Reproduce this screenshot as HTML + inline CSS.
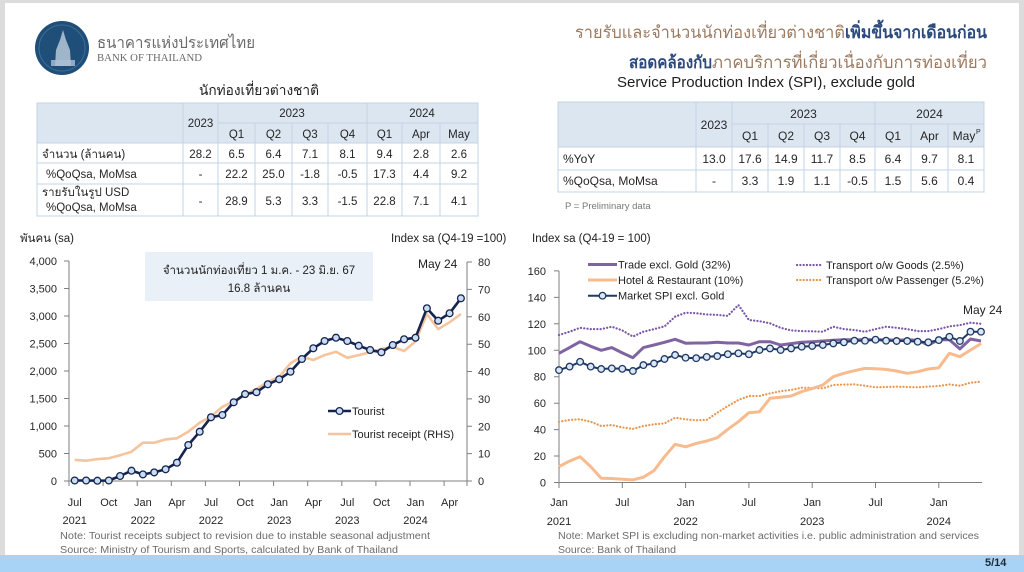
<!DOCTYPE html>
<html><head><meta charset="utf-8">
<style>
html,body{margin:0;padding:0;width:1024px;height:572px;overflow:hidden;background:#fff}
svg{display:block}
text{font-family:"Liberation Sans","DejaVu Sans","Noto Sans CJK SC",sans-serif;fill:#262626}
.t{font-size:11.5px}
.ax{font-size:11px;fill:#333}
.nt{font-size:10px;fill:#6b6b6b}
.lg{font-size:11px;fill:#222}
</style></head><body>
<svg width="1024" height="572" viewBox="0 0 1024 572" xmlns="http://www.w3.org/2000/svg">
<defs>
<marker id="mk" markerUnits="userSpaceOnUse" markerWidth="10" markerHeight="10" refX="5" refY="5" viewBox="0 0 10 10">
<circle cx="5" cy="5" r="3.3" fill="#dbe7f5" stroke="#1f3864" stroke-width="1.3"/>
</marker>
<marker id="mk2" markerUnits="userSpaceOnUse" markerWidth="10" markerHeight="10" refX="5" refY="5" viewBox="0 0 10 10">
<circle cx="5" cy="5" r="3.4" fill="#c9dcf2" stroke="#14244f" stroke-width="1.3"/>
</marker>
</defs>
<!-- frame -->
<rect x="0" y="0" width="1024" height="572" fill="#dcdcdc"/>
<rect x="5" y="3" width="1014" height="552" fill="#ffffff"/>
<rect x="0" y="555" width="1024" height="17" fill="#a9d3f6"/>
<text x="985" y="566" style="font-size:11px;font-weight:bold;fill:#1e2a3a">5/14</text>

<!-- logo -->
<circle cx="62" cy="48" r="27" fill="#1f4e79"/>
<circle cx="62" cy="48" r="23" fill="none" stroke="#3d6c96" stroke-width="1"/>
<path d="M55 66 L56 50 L60 40 L63 30 L66 40 L70 50 L71 66 Z" fill="#c9d8e6" opacity="0.75"/>
<rect x="51" y="60" width="24" height="6" fill="#a9c0d6" opacity="0.8"/>
<text x="97" y="48" textLength="158" lengthAdjust="spacingAndGlyphs" style="font-size:16px;fill:#6a6a6a">ธนาคารแห่งประเทศไทย</text>
<text x="97" y="61" textLength="105" lengthAdjust="spacingAndGlyphs" style="font-family:'Liberation Serif',serif;font-size:10px;fill:#6a6a6a">BANK OF THAILAND</text>

<!-- titles -->
<text x="575" y="38" textLength="270" lengthAdjust="spacingAndGlyphs" style="font-size:17px;fill:#9c7a60">รายรับและจำนวนนักท่องเที่ยวต่างชาติ</text>
<text x="845" y="38" textLength="142" lengthAdjust="spacingAndGlyphs" style="font-size:17px;fill:#2c4a7c;font-weight:bold">เพิ่มขึ้นจากเดือนก่อน</text>
<text x="629" y="68" textLength="83" lengthAdjust="spacingAndGlyphs" style="font-size:17px;fill:#2c4a7c;font-weight:bold">สอดคล้องกับ</text>
<text x="712" y="68" textLength="275" lengthAdjust="spacingAndGlyphs" style="font-size:17px;fill:#9c7a60">ภาคบริการที่เกี่ยวเนื่องกับการท่องเที่ยว</text>

<text x="199" y="95" textLength="120" lengthAdjust="spacingAndGlyphs" style="font-size:14px;fill:#1e1e1e">นักท่องเที่ยวต่างชาติ</text>
<text x="617" y="87" textLength="298" lengthAdjust="spacingAndGlyphs" style="font-size:15px;fill:#1e1e1e">Service Production Index (SPI), exclude gold</text>

<!-- LEFT TABLE -->
<rect x="37" y="103" width="441" height="40" fill="#dce6f1"/>
<g stroke="#c3d3e6" stroke-width="1" fill="none">
<rect x="37" y="103" width="441" height="113"/>
<line x1="37" y1="143" x2="478" y2="143"/>
<line x1="37" y1="163" x2="478" y2="163"/>
<line x1="37" y1="184" x2="478" y2="184"/>
<line x1="218" y1="123" x2="478" y2="123"/>
<line x1="183" y1="103" x2="183" y2="216"/>
<line x1="218" y1="103" x2="218" y2="216"/>
<line x1="367" y1="103" x2="367" y2="216"/>
<line x1="255" y1="123" x2="255" y2="216"/>
<line x1="292" y1="123" x2="292" y2="216"/>
<line x1="328" y1="123" x2="328" y2="216"/>
<line x1="402" y1="123" x2="402" y2="216"/>
<line x1="440" y1="123" x2="440" y2="216"/>
</g>
<g class="t" text-anchor="middle">
<text x="200.5" y="127">2023</text>
<text x="292" y="117">2023</text>
<text x="422" y="117">2024</text>
<text x="236.5" y="138">Q1</text><text x="273.5" y="138">Q2</text><text x="310" y="138">Q3</text><text x="347.5" y="138">Q4</text>
<text x="384.5" y="138">Q1</text><text x="421" y="138">Apr</text><text x="459" y="138">May</text>
<text x="200.5" y="158">28.2</text><text x="236.5" y="158">6.5</text><text x="273.5" y="158">6.4</text><text x="310" y="158">7.1</text><text x="347.5" y="158">8.1</text><text x="384.5" y="158">9.4</text><text x="421" y="158">2.8</text><text x="459" y="158">2.6</text>
<text x="200.5" y="178">-</text><text x="236.5" y="178">22.2</text><text x="273.5" y="178">25.0</text><text x="310" y="178">-1.8</text><text x="347.5" y="178">-0.5</text><text x="384.5" y="178">17.3</text><text x="421" y="178">4.4</text><text x="459" y="178">9.2</text>
<text x="200.5" y="205">-</text><text x="236.5" y="205">28.9</text><text x="273.5" y="205">5.3</text><text x="310" y="205">3.3</text><text x="347.5" y="205">-1.5</text><text x="384.5" y="205">22.8</text><text x="421" y="205">7.1</text><text x="459" y="205">4.1</text>
</g>
<g class="t">
<text x="42" y="158">จำนวน (ล้านคน)</text>
<text x="46" y="178">%QoQsa, MoMsa</text>
<text x="42" y="196">รายรับในรูป USD</text>
<text x="46" y="211">%QoQsa, MoMsa</text>
</g>

<!-- RIGHT TABLE -->
<rect x="558" y="102" width="426" height="45" fill="#dce6f1"/>
<g stroke="#c3d3e6" stroke-width="1" fill="none">
<rect x="558" y="102" width="426" height="90"/>
<line x1="558" y1="147" x2="984" y2="147"/>
<line x1="558" y1="170" x2="984" y2="170"/>
<line x1="732" y1="124" x2="984" y2="124"/>
<line x1="696" y1="102" x2="696" y2="192"/>
<line x1="732" y1="102" x2="732" y2="192"/>
<line x1="875" y1="102" x2="875" y2="192"/>
<line x1="768" y1="124" x2="768" y2="192"/>
<line x1="804" y1="124" x2="804" y2="192"/>
<line x1="840" y1="124" x2="840" y2="192"/>
<line x1="911" y1="124" x2="911" y2="192"/>
<line x1="948" y1="124" x2="948" y2="192"/>
</g>
<g class="t" text-anchor="middle" style="font-size:12px">
<text x="714" y="129">2023</text>
<text x="803.5" y="118">2023</text>
<text x="929.5" y="118">2024</text>
<text x="750" y="140">Q1</text><text x="786" y="140">Q2</text><text x="822" y="140">Q3</text><text x="857.5" y="140">Q4</text>
<text x="893" y="140">Q1</text><text x="929.5" y="140">Apr</text><text x="964" y="140">May</text>
<text x="714" y="163">13.0</text><text x="750" y="163">17.6</text><text x="786" y="163">14.9</text><text x="822" y="163">11.7</text><text x="857.5" y="163">8.5</text><text x="893" y="163">6.4</text><text x="929.5" y="163">9.7</text><text x="966" y="163">8.1</text>
<text x="714" y="185">-</text><text x="750" y="185">3.3</text><text x="786" y="185">1.9</text><text x="822" y="185">1.1</text><text x="857.5" y="185">-0.5</text><text x="893" y="185">1.5</text><text x="929.5" y="185">5.6</text><text x="966" y="185">0.4</text>
</g>
<text x="976" y="134" style="font-size:7px">P</text>
<g class="t" style="font-size:12px">
<text x="563" y="163">%YoY</text>
<text x="563" y="185">%QoQsa, MoMsa</text>
</g>
<text x="565" y="209" style="font-size:9.5px;fill:#777">P = Preliminary data</text>

<!-- LEFT CHART -->
<text x="20" y="242" style="font-size:11.5px;fill:#222">พันคน (sa)</text>
<text x="391" y="242" style="font-size:11.5px;fill:#222">Index sa (Q4-19 =100)</text>
<rect x="145" y="252" width="228" height="49" fill="#e9f0f8"/>
<text x="259" y="274" text-anchor="middle" style="font-size:11.5px;fill:#222">จำนวนนักท่องเที่ยว 1 ม.ค. - 23 มิ.ย. 67</text>
<text x="259" y="292" text-anchor="middle" style="font-size:11.5px;fill:#222">16.8 ล้านคน</text>
<text x="418" y="268" style="font-size:12px;fill:#222">May 24</text>

<g stroke="#7f7f7f" stroke-width="1" fill="none">
<line x1="69" y1="261" x2="69" y2="481"/>
<line x1="467" y1="262" x2="467" y2="481"/>
<line x1="69" y1="481" x2="467" y2="481"/>
<path d="M64 261H69M64 288.5H69M64 316H69M64 343.5H69M64 371H69M64 398.5H69M64 426H69M64 453.5H69M64 481H69"/>
<path d="M467 262H472M467 289.4H472M467 316.8H472M467 344.2H472M467 371.5H472M467 398.9H472M467 426.3H472M467 453.6H472M467 481H472"/>
<path d="M69 481V486M103.1 481V486M137.2 481V486M171.3 481V486M205.4 481V486M239.5 481V486M273.6 481V486M307.7 481V486M341.8 481V486M375.9 481V486M410 481V486M444.1 481V486M467 481V486"/>
</g>
<g class="ax" text-anchor="end">
<text x="57" y="265">4,000</text><text x="57" y="292.5">3,500</text><text x="57" y="320">3,000</text><text x="57" y="347.5">2,500</text><text x="57" y="375">2,000</text><text x="57" y="402.5">1,500</text><text x="57" y="430">1,000</text><text x="57" y="457.5">500</text><text x="57" y="485">0</text>
</g>
<g class="ax">
<text x="478" y="266">80</text><text x="478" y="293.4">70</text><text x="478" y="320.8">60</text><text x="478" y="348.2">50</text><text x="478" y="375.5">40</text><text x="478" y="402.9">30</text><text x="478" y="430.3">20</text><text x="478" y="457.6">10</text><text x="478" y="485">0</text>
</g>
<g class="ax" text-anchor="middle">
<text x="74.7" y="506">Jul</text><text x="108.8" y="506">Oct</text><text x="142.9" y="506">Jan</text><text x="176.9" y="506">Apr</text><text x="211" y="506">Jul</text><text x="245.1" y="506">Oct</text><text x="279.2" y="506">Jan</text><text x="313.3" y="506">Apr</text><text x="347.3" y="506">Jul</text><text x="381.4" y="506">Oct</text><text x="415.5" y="506">Jan</text><text x="449.6" y="506">Apr</text>
<text x="74.7" y="524">2021</text><text x="142.9" y="524">2022</text><text x="211" y="524">2022</text><text x="279.2" y="524">2023</text><text x="347.3" y="524">2023</text><text x="415.5" y="524">2024</text>
</g>

<polyline fill="none" stroke="#f6c49c" stroke-width="2.6" stroke-linejoin="round" points="74.7,459.9 86.1,460.7 97.4,459.1 108.8,458.3 120.1,455.3 131.5,451.7 142.9,442.7 154.2,442.7 165.6,439.4 176.9,438.3 188.3,431.7 199.7,422.7 211,416.7 222.4,406.8 233.7,401.6 245.1,394.5 256.5,389 267.8,381.9 279.2,377 290.5,363.3 301.9,356.7 313.3,360 324.6,355.1 336,351.8 347.3,357.8 358.7,355.1 370.1,352.3 381.4,349 392.8,346.9 404.1,351 415.5,341.4 426.9,314 438.2,329.1 449.6,322.2 460.9,314"/>
<polyline fill="none" stroke="#14244f" stroke-width="2.6" stroke-linejoin="round" marker-start="url(#mk2)" marker-mid="url(#mk2)" marker-end="url(#mk2)" points="74.7,480.5 86.1,480.5 97.4,480.7 108.8,480.5 120.1,476 131.5,470.7 142.9,474.4 154.2,472.4 165.6,469.3 176.9,462.7 188.3,445 199.7,431.7 211,417.3 222.4,415 233.7,402.3 245.1,394.1 256.5,392.2 267.8,384.3 279.2,379.3 290.5,371.7 301.9,359 313.3,348.3 324.6,341 336,337.7 347.3,341 358.7,345.7 370.1,350 381.4,352.3 392.8,345 404.1,339.3 415.5,337.7 426.9,308.3 438.2,320.7 449.6,313.3 460.9,298.3"/>

<!-- left legend -->
<line x1="328" y1="411" x2="351" y2="411" stroke="#14244f" stroke-width="2.6"/>
<circle cx="339.5" cy="411" r="3.4" fill="#c9dcf2" stroke="#14244f" stroke-width="1.3"/>
<text x="352" y="415" class="lg">Tourist</text>
<line x1="328" y1="434" x2="351" y2="434" stroke="#f6c49c" stroke-width="2.6"/>
<text x="352" y="438" class="lg">Tourist receipt (RHS)</text>

<text x="60" y="539" class="nt" textLength="370" lengthAdjust="spacingAndGlyphs">Note: Tourist receipts subject to revision due to instable seasonal adjustment</text>
<text x="60" y="553" class="nt" textLength="338" lengthAdjust="spacingAndGlyphs">Source: Ministry of Tourism and Sports, calculated by Bank of Thailand</text>

<!-- RIGHT CHART -->
<text x="532" y="242" style="font-size:11.5px;fill:#222">Index sa (Q4-19 = 100)</text>
<g stroke="#7f7f7f" stroke-width="1" fill="none">
<line x1="559" y1="271" x2="559" y2="482.5"/>
<line x1="559" y1="482.5" x2="982" y2="482.5"/>
<path d="M554 270.9H559M554 297.4H559M554 323.8H559M554 350.3H559M554 376.7H559M554 403.2H559M554 429.6H559M554 456H559M554 482.5H559"/>
<path d="M559 482.5V488M622.3 482.5V488M685.6 482.5V488M748.9 482.5V488M812.2 482.5V488M875.5 482.5V488M938.8 482.5V488"/>
</g>
<g class="ax" text-anchor="end">
<text x="546" y="275">160</text><text x="546" y="301.4">140</text><text x="546" y="327.8">120</text><text x="546" y="354.3">100</text><text x="546" y="380.7">80</text><text x="546" y="407.2">60</text><text x="546" y="433.6">40</text><text x="546" y="460">20</text><text x="546" y="486.5">0</text>
</g>
<g class="ax" text-anchor="middle">
<text x="559" y="506">Jan</text><text x="622.3" y="506">Jul</text><text x="685.6" y="506">Jan</text><text x="748.9" y="506">Jul</text><text x="812.2" y="506">Jan</text><text x="875.5" y="506">Jul</text><text x="938.8" y="506">Jan</text>
<text x="559" y="525">2021</text><text x="685.6" y="525">2022</text><text x="812.2" y="525">2023</text><text x="938.8" y="525">2024</text>
</g>

<polyline fill="none" stroke="#e8964f" stroke-width="2.2" stroke-linecap="round" stroke-dasharray="0.1 3.2" points="559,421.7 569.6,419.9 580.1,419.3 590.7,421.7 601.2,426 611.8,425 622.3,427.4 632.9,428.9 643.4,426 654,424.3 664.5,423.4 675.1,417.7 685.6,419.3 696.2,420.3 706.7,419.9 717.3,412.7 727.8,406.1 738.4,400 748.9,396 759.5,396 770,393.4 780.6,391.2 791.1,389.9 801.7,387.7 812.2,388 822.8,388.3 833.3,385 843.9,384.6 854.4,384.4 865,385.7 875.5,387.3 886.1,387 896.6,386.7 907.2,387 917.7,387.3 928.3,386.6 938.8,386 949.4,384.4 959.9,385.7 970.5,382.7 981,381.7"/>
<polyline fill="none" stroke="#7a55a8" stroke-width="2.2" stroke-linecap="round" stroke-dasharray="0.1 3.2" points="559,335 569.6,331.7 580.1,327.8 590.7,329.1 601.2,329.1 611.8,326.7 622.3,330.4 632.9,336.6 643.4,331.7 654,329.1 664.5,326.4 675.1,316.7 685.6,312.7 696.2,313.2 706.7,314.5 717.3,314.9 727.8,315.9 738.4,305 748.9,320 759.5,321.2 770,323.3 780.6,327.8 791.1,330.4 801.7,331.1 812.2,331.3 822.8,331.7 833.3,326.7 843.9,329.1 854.4,330 865,331.7 875.5,329.1 886.1,326.7 896.6,327.8 907.2,329.1 917.7,331.1 928.3,331.1 938.8,329.1 949.4,326.4 959.9,325.1 970.5,322.7 981,323.8"/>
<polyline fill="none" stroke="#f7bb8e" stroke-width="3" stroke-linejoin="round" points="559,466.6 569.6,461.1 580.1,456.7 590.7,466.6 601.2,478.3 611.8,478.5 622.3,479.2 632.9,479.9 643.4,477.2 654,470.6 664.5,456.7 675.1,444.3 685.6,446.8 696.2,443.4 706.7,441 717.3,437.7 727.8,429.3 738.4,421.7 748.9,412.7 759.5,411.7 770,398.3 780.6,397.3 791.1,396 801.7,391.6 812.2,388.6 822.8,385 833.3,376.7 843.9,373.3 854.4,370.7 865,368.4 875.5,368.8 886.1,369.4 896.6,371 907.2,373.3 917.7,371.7 928.3,369 938.8,367.7 949.4,353.3 959.9,356.7 970.5,350 981,343.6"/>
<polyline fill="none" stroke="#8064a2" stroke-width="3" stroke-linejoin="round" points="559,353.3 569.6,347.6 580.1,341.7 590.7,346.3 601.2,350.3 611.8,347.6 622.3,352.9 632.9,357.7 643.4,347.6 654,345 664.5,342.3 675.1,339.3 685.6,343.2 696.2,343 706.7,343 717.3,342.3 727.8,343 738.4,343 748.9,345 759.5,341.7 770,341.7 780.6,345 791.1,343.6 801.7,342.3 812.2,341.7 822.8,341 833.3,340.3 843.9,339.7 854.4,339.7 865,339.7 875.5,339.7 886.1,339.7 896.6,340.3 907.2,339.7 917.7,340.3 928.3,345 938.8,339.7 949.4,339.7 959.9,348.9 970.5,339 981,341"/>
<polyline fill="none" stroke="#1f3864" stroke-width="2" stroke-linejoin="round" marker-start="url(#mk)" marker-mid="url(#mk)" marker-end="url(#mk)" points="559,370.1 569.6,366.6 580.1,361.8 590.7,366.6 601.2,369 611.8,368.4 622.3,368.8 632.9,371 643.4,365.1 654,363.5 664.5,359 675.1,355 685.6,357.7 696.2,358.2 706.7,356.9 717.3,356.1 727.8,354.2 738.4,353.3 748.9,354.2 759.5,350 770,348.4 780.6,350 791.1,348.4 801.7,346.7 812.2,346 822.8,345 833.3,343.4 843.9,342.3 854.4,340.7 865,340.7 875.5,339.7 886.1,340.7 896.6,341 907.2,341 917.7,341.7 928.3,342.3 938.8,340.1 949.4,336.8 959.9,341 970.5,331.7 981,331.7"/>

<text x="963" y="314" style="font-size:12px;fill:#222">May 24</text>

<!-- right legend -->
<line x1="588" y1="264.5" x2="617" y2="264.5" stroke="#8064a2" stroke-width="3"/>
<text x="618" y="268.5" class="lg">Trade excl. Gold (32%)</text>
<line x1="588" y1="280" x2="617" y2="280" stroke="#f7bb8e" stroke-width="3"/>
<text x="618" y="284" class="lg">Hotel &amp; Restaurant (10%)</text>
<line x1="588" y1="295.7" x2="617" y2="295.7" stroke="#1f3864" stroke-width="2"/>
<circle cx="602.5" cy="295.7" r="3.3" fill="#dbe7f5" stroke="#1f3864" stroke-width="1.3"/>
<text x="618" y="299.7" class="lg">Market SPI excl. Gold</text>
<line x1="797" y1="265" x2="822" y2="265" stroke="#7a55a8" stroke-width="2.2" stroke-linecap="round" stroke-dasharray="0.1 3.2"/>
<text x="826" y="269" class="lg">Transport o/w Goods (2.5%)</text>
<line x1="797" y1="280" x2="822" y2="280" stroke="#e8964f" stroke-width="2.2" stroke-linecap="round" stroke-dasharray="0.1 3.2"/>
<text x="826" y="284" class="lg">Transport o/w Passenger (5.2%)</text>

<text x="558" y="539" class="nt" textLength="421" lengthAdjust="spacingAndGlyphs">Note: Market SPI is excluding non-market activities i.e. public administration and services</text>
<text x="558" y="553" class="nt" textLength="118" lengthAdjust="spacingAndGlyphs">Source: Bank of Thailand</text>
</svg>
</body></html>
